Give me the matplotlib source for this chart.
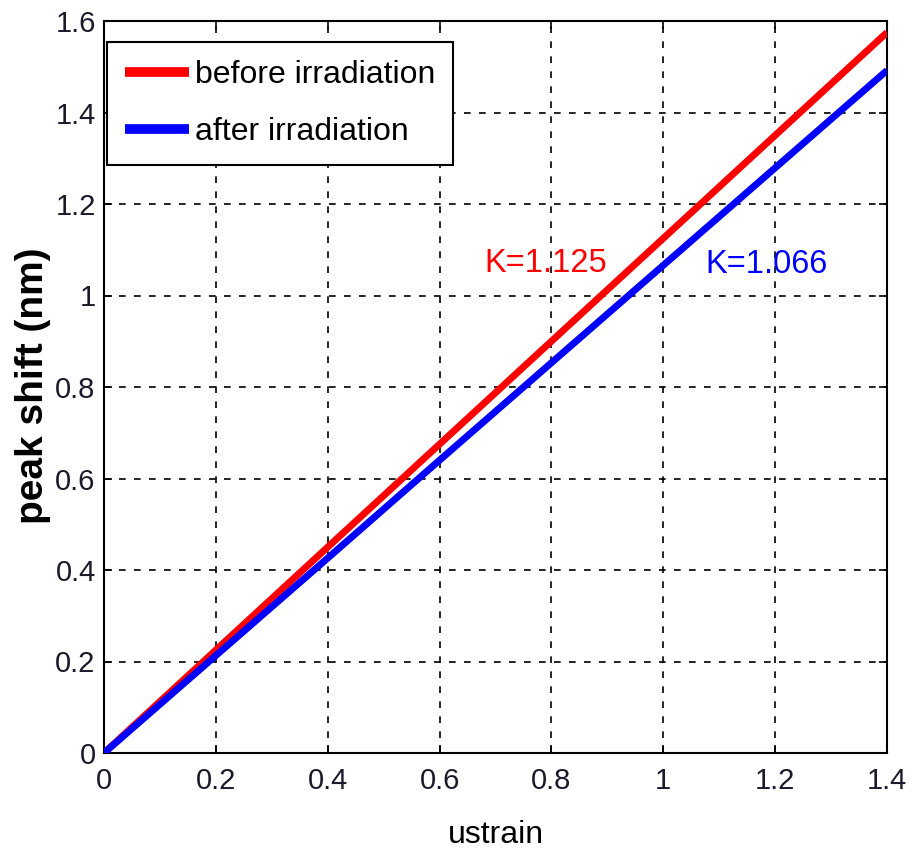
import matplotlib
matplotlib.use("Agg")
import matplotlib.pyplot as plt

strain = [0, 0.2, 0.4, 0.6, 0.8, 1.0, 1.2, 1.4]
before = [0, 0.225, 0.45, 0.675, 0.90, 1.125, 1.35, 1.575]
after = [0, 0.213, 0.426, 0.640, 0.853, 1.066, 1.279, 1.492]
xticks = [0, 0.2, 0.4, 0.6, 0.8, 1, 1.2, 1.4]
xticklabels = ["0", "0.2", "0.4", "0.6", "0.8", "1", "1.2", "1.4"]
yticks = [0, 0.2, 0.4, 0.6, 0.8, 1, 1.2, 1.4, 1.6]
yticklabels = ["0", "0.2", "0.4", "0.6", "0.8", "1", "1.2", "1.4", "1.6"]
labels = ["before irradiation", "after irradiation"]
k_texts = ["K=1.125", "K=1.066"]

plt.rcParams['font.family'] = ["Liberation Sans", "DejaVu Sans"]

fig = plt.figure(figsize=(9.14, 8.58), dpi=100)
ax = fig.add_axes([104/914, 1-753/858, (887-104)/914, (753-21)/858])

ax.plot(strain, before, color=(1, 0, 0), lw=5, label=labels[0], solid_capstyle='butt', zorder=3)
ax.plot(strain, after, color=(0, 0, 1), lw=5, label=labels[1], solid_capstyle='butt', zorder=3)

ax.set_xlim(0, 1.4)
ax.set_ylim(0, 1.6)
ax.set_xticks(xticks)
ax.set_xticklabels(xticklabels)
ax.set_yticks(yticks)
ax.set_yticklabels(yticklabels)
ax.tick_params(direction='in', length=6, width=1.2, top=True, right=True,
               labelsize=21, colors='black')
ax.tick_params(axis='x', pad=10)
ax.tick_params(axis='y', pad=6)
for lab in ax.get_xticklabels() + ax.get_yticklabels():
    lab.set_color('#1a1a2a')
ax.grid(True, color='black', linestyle=(0, (4, 5)), linewidth=1.2)
for sp in ax.spines.values():
    sp.set_linewidth(1.5)

ax.set_xlabel("ustrain", fontsize=23, labelpad=18)
fig.text(33/914, 1-386/858, "peak shift (nm)", rotation=90, ha='center', va='center',
         fontsize=28, fontweight='bold')

ax.text(0.79, 1.071, k_texts[0], color=(1, 0, 0), fontsize=23.5, ha='center', va='center')
ax.text(1.184, 1.067, k_texts[1], color=(0, 0, 1), fontsize=23.5, ha='center', va='center')

leg = ax.legend(loc='upper left', bbox_to_anchor=(0.004, 0.971), borderaxespad=0,
                fontsize=23, fancybox=False, edgecolor='black', framealpha=1,
                handlelength=2.0, handletextpad=0.2, borderpad=0.55, labelspacing=0.85)
leg.get_frame().set_linewidth(1.5)
for line in leg.get_lines():
    line.set_linewidth(7)

fig.savefig("out.png", dpi=100)
